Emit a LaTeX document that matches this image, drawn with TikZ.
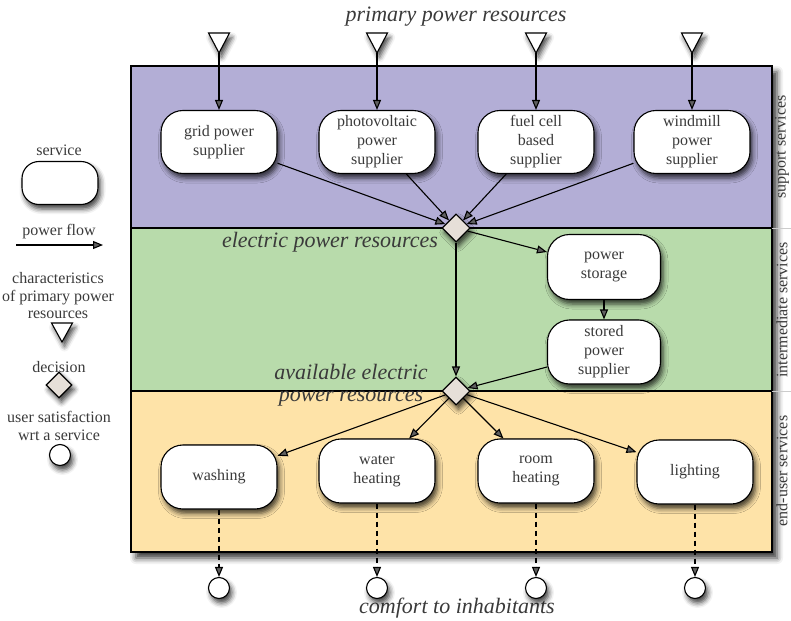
\documentclass[tikz,border=0pt]{standalone}
\usepackage{fontspec}
\setmainfont{Liberation Serif}
\usetikzlibrary{shapes.geometric,arrows.meta,shadows.blur}

\definecolor{lanesup}{HTML}{B3AED6}
\definecolor{lanemid}{HTML}{B8DBAB}
\definecolor{laneend}{HTML}{FEE3A8}
\definecolor{decfill}{HTML}{E6DFD8}
\definecolor{txt}{HTML}{3A3A3A}

\begin{document}
\begin{tikzpicture}[x=1pt,y=-1pt,
  soft/.style={blur shadow={shadow xshift=2.5pt,shadow yshift=-4.5pt,shadow blur radius=5pt,shadow opacity=75}},
  service/.style={draw=black,line width=1.1pt,fill=white,rounded corners=22pt,
    minimum width=116pt,minimum height=63pt,align=center,inner sep=2pt,
    font=\fontsize{16}{19}\selectfont,text=txt,soft},
  decision/.style={diamond,draw=black,line width=1.1pt,fill=decfill,minimum size=28pt,inner sep=0pt,soft},
  satisfied/.style={circle,draw=black,line width=1.1pt,fill=white,minimum size=21pt,inner sep=0pt,soft},
  primary/.style={draw=black,line width=1.1pt,fill=white,line join=miter,soft},
  flow/.style={-{Triangle[length=10pt,width=8pt]},line width=1.1pt},
  satflow/.style={flow,dash pattern=on 5pt off 4pt},
  lbl/.style={font=\fontsize{16}{18}\selectfont,text=txt,align=center,inner sep=0pt},
  heading/.style={font=\fontsize{22}{22}\selectfont\itshape,text=txt,inner sep=0pt,align=center},
  lanename/.style={font=\fontsize{16}{18}\selectfont,text=txt,rotate=90,inner sep=0pt},
  port/.style={line width=2.6pt,line cap=butt}]

\useasboundingbox (0,0) rectangle (791,620);

% ---- swim lanes ----
\path[fill=lanesup,blur shadow={shadow xshift=5pt,shadow yshift=-6pt,shadow blur radius=6pt,shadow opacity=80}]
  (131,66) rectangle (772,552);
\fill[lanesup] (131,66) rectangle (772,228);
\fill[lanemid] (131,228) rectangle (772,391);
\fill[laneend] (131,391) rectangle (772,552);
\draw[line width=1.2pt] (131,66) rectangle (772,552);
\draw[line width=1.2pt] (131,228) -- (772,228);
\draw[line width=1.2pt] (131,391) -- (772,391);
\draw[black!20,line width=0.8pt] (772,228) -- (791,228) (772,391) -- (791,391);

% ports on lane borders
\foreach \x in {219,377,536,692} \draw[port] (\x-24,66) -- (\x+24,66);
\draw[port] (430,228) -- (483,228);
\draw[port] (430,391) -- (483,391);
\draw[port] (533,391) -- (677,391);

\node[lanename] (lsup) at (782,147) {support services};
\node[lanename] (lmid) at (782,310) {intermediate services};
\node[lanename] (lend) at (782,471) {end-user services};

% ---- headings ----
\node[heading] (hprim) at (456,17) {primary power resources};
\node[heading] (helec) at (330,242) {electric power resources};
\node[heading] (havail) at (351,385) {available electric\\power resources};
\node[heading] (hcomf) at (457,608) {comfort to inhabitants};

% ---- primary power resources ----
\foreach \n/\x in {1/219,2/377,3/536,4/692}{
  \draw[primary] (\x-10.5,33) -- (\x+10.5,33) -- (\x,53) -- cycle;
  \coordinate (t\n) at (\x,53);
}

% ---- support services ----
\node[service] (grid) at (219,142) {grid power\\supplier};
\node[service] (pv)   at (377,142) {photovoltaic\\power\\supplier};
\node[service] (fuel) at (536,142) {fuel cell\\based\\supplier};
\node[service] (wind) at (692,142) {windmill\\power\\supplier};

% ---- decisions ----
\node[decision] (d1) at (456,228) {};
\node[decision] (d2) at (456,391) {};

% ---- intermediate services ----
\node[service,minimum width=113pt,minimum height=65pt] (store)  at (604,267) {power\\storage};
\node[service,minimum width=113pt,minimum height=64pt] (stored) at (604,352) {stored\\power\\supplier};

% ---- end-user services ----
\node[service,minimum height=64pt] (wash)  at (219,477) {washing};
\node[service,minimum height=64pt] (water) at (377,471) {water\\heating};
\node[service,minimum height=64pt] (room)  at (536,471) {room\\heating};
\node[service,minimum height=64pt] (light) at (695,472) {lighting};

% ---- user satisfaction ----
\node[satisfied] (s1) at (219,588) {};
\node[satisfied] (s2) at (377,588) {};
\node[satisfied] (s3) at (536,588) {};
\node[satisfied] (s4) at (695,588) {};

% ---- power flows ----
\draw[flow] (t1) -- (grid);
\draw[flow] (t2) -- (pv);
\draw[flow] (t3) -- (fuel);
\draw[flow] (t4) -- (wind);
\foreach \s in {grid,pv,fuel,wind} \draw[flow] (\s) -- (d1);
\draw[flow] (d1) -- (store);
\draw[flow] (store) -- (stored);
\draw[flow] (stored) -- (d2);
\draw[flow] (d1) -- (d2);
\foreach \s in {wash,water,room,light} \draw[flow] (d2) -- (\s);
\draw[satflow] (wash) -- (s1);
\draw[satflow] (water) -- (s2);
\draw[satflow] (room) -- (s3);
\draw[satflow] (light) -- (s4);

% ---- legend ----
\node[lbl] (kservice) at (59,150) {service};
\node[service,minimum width=76pt,minimum height=43pt,rounded corners=17pt] (kbox) at (60,183) {};
\node[lbl] (kflow) at (59,232) {power flow};
\coordinate (kfa) at (16,245);
\coordinate (kfb) at (103,245);
\draw[flow] (kfa) -- (kfb);
\node[lbl,font=\fontsize{16}{17.5}\selectfont] (kprim) at (58,296) {characteristics\\of primary power\\resources};
\draw[primary] (51.5,323) -- (72.5,323) -- (62,342) -- cycle;
\node[lbl] (kdec) at (59,367) {decision};
\node[decision,minimum size=26pt] (kd) at (59,385) {};
\node[lbl,font=\fontsize{16}{17.5}\selectfont] (ksat) at (59,426) {user satisfaction\\wrt a service};
\node[satisfied] (ks) at (60,455) {};

\end{tikzpicture}
\end{document}
